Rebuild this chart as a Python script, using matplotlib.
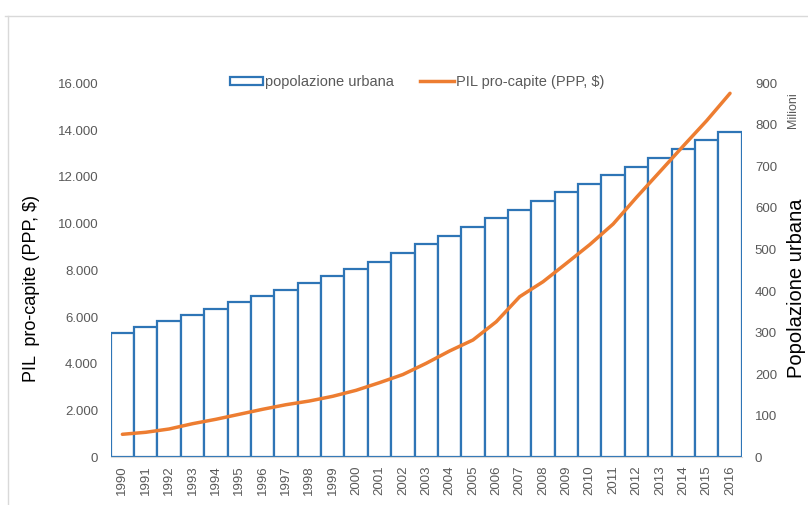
import numpy as np
import matplotlib
matplotlib.use("Agg")
import matplotlib.pyplot as plt
from matplotlib.patches import Patch
from matplotlib.lines import Line2D
from matplotlib.ticker import FuncFormatter

# Data
years = list(range(1990, 2017))
urban_pop = [298, 313, 328, 342, 358, 373, 387, 402, 419, 436,
             452, 471, 491, 513, 533, 555, 575, 596, 617, 638,
             658, 679, 699, 720, 742, 763, 784]  # milioni
gdp_pc = [984, 1070, 1211, 1437, 1626, 1840, 2054, 2250, 2408, 2610,
          2866, 3192, 3540, 4021, 4548, 5018, 5801, 6871, 7512, 8300,
          9100, 9981, 11123, 12219, 13318, 14400, 15572]  # PPP $

BLUE = "#2E75B6"
ORANGE = "#ED7D31"
GREY = "#595959"

plt.rcParams['font.family'] = ['Liberation Sans', 'DejaVu Sans']

fig = plt.figure(figsize=(8.08, 5.05), dpi=100)
W, H = 808, 505
ax = fig.add_axes([110.7 / W, 1 - 457.3 / H, 631 / W, 374 / H])
ax2 = ax.twinx()

x = np.arange(len(years))

# bars on the right axis (popolazione urbana)
ax2.bar(x, urban_pop, width=1.0, facecolor="white", edgecolor=BLUE,
        linewidth=1.6, zorder=1)
ax2.set_ylim(0, 900)
ax2.set_yticks(range(0, 901, 100))

# GDP line on the left axis, drawn above the bars
ax.set_zorder(ax2.get_zorder() + 1)
ax.patch.set_visible(False)
ax.plot(x, gdp_pc, color=ORANGE, linewidth=2.5, solid_capstyle="round",
        solid_joinstyle="round")
ax.set_ylim(0, 16000)
ax.set_yticks(range(0, 16001, 2000))
ax.yaxis.set_major_formatter(FuncFormatter(lambda v, p: f"{int(v):,}".replace(",", ".")))
ax.set_xlim(-0.5, len(years) - 0.5)
ax.set_xticks(x)
ax.set_xticklabels([str(y) for y in years], rotation=90)

for a in (ax, ax2):
    for s in a.spines.values():
        s.set_visible(False)
    a.tick_params(length=0, labelsize=9.5, labelcolor=GREY)
ax.spines['bottom'].set_visible(True)
ax.spines['bottom'].set_color("#D9D9D9")
ax.tick_params(axis='y', pad=9)
ax.tick_params(axis='x', pad=6)
ax2.tick_params(axis='y', pad=9.5)

# axis titles
fig.text(32 / W, 1 - 288 / H, "PIL  pro-capite (PPP, $)", rotation=90,
         fontsize=13, color="black", ha="center", va="center")
fig.text(797 / W, 1 - 288 / H, "Popolazione urbana", rotation=90,
         fontsize=14.5, color="black", ha="center", va="center")
fig.text(793 / W, 1 - 110 / H, "Milioni", rotation=90, fontsize=9,
         color=GREY, ha="center", va="center")

# legend
handles = [Patch(facecolor="white", edgecolor=BLUE, linewidth=1.6),
           Line2D([0], [0], color=ORANGE, linewidth=2.5)]
fig.legend(handles, ["popolazione urbana", "PIL pro-capite (PPP, $)"],
           loc="center", bbox_to_anchor=(417 / W, 1 - 82 / H), ncol=2,
           frameon=False, fontsize=10.5, labelcolor=GREY, handlelength=2.3,
           handleheight=0.5, handletextpad=0.15, columnspacing=1.8)

# chart-area border (top and left)
fig.add_artist(Line2D([5 / W, 1], [1 - 16 / H, 1 - 16 / H], color="#D9D9D9",
                      linewidth=1, transform=fig.transFigure))
fig.add_artist(Line2D([8 / W, 8 / W], [0, 1 - 16 / H], color="#D9D9D9",
                      linewidth=1, transform=fig.transFigure))

fig.savefig("out.png", dpi=100)
